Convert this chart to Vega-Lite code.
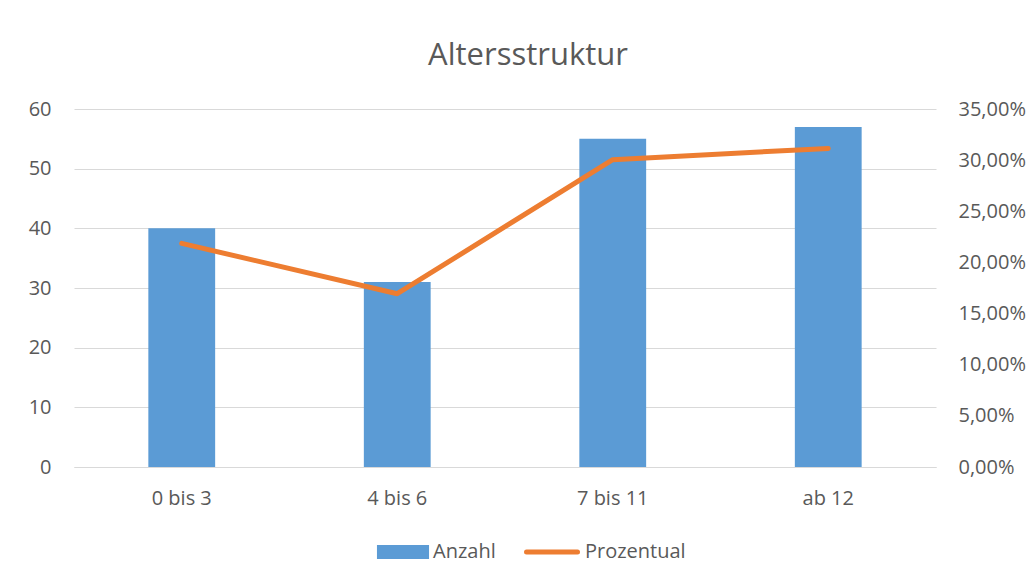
{
  "$schema": "https://vega.github.io/schema/vega-lite/v6.json",
  "width": 862,
  "height": 358,
  "autosize": {"type": "none"},
  "padding": {"left": 74, "top": 109, "right": 98, "bottom": 116},
  "background": "white",
  "config": {
    "locale": {"number": {"decimal": ",", "thousands": ".", "grouping": [3], "currency": ["", " €"]}},
    "font": "Open Sans",
    "view": {"stroke": null},
    "axis": {"labelFont": "Open Sans", "labelFontSize": 20, "labelColor": "#595959", "ticks": false, "title": null},
    "legend": {"labelFont": "Open Sans", "labelFontSize": 20, "labelColor": "#595959", "title": null}
  },
  "title": {"text": "Altersstruktur", "fontSize": 31, "font": "Open Sans", "fontWeight": "normal", "color": "#595959", "anchor": "middle", "frame": "group", "dx": 23, "offset": 27},
  "data": {"values": [
    {"Kategorie": "0 bis 3", "Anzahl": 40, "Prozentual": 0.2186},
    {"Kategorie": "4 bis 6", "Anzahl": 31, "Prozentual": 0.1694},
    {"Kategorie": "7 bis 11", "Anzahl": 55, "Prozentual": 0.3005},
    {"Kategorie": "ab 12", "Anzahl": 57, "Prozentual": 0.3115}
  ]},
  "encoding": {
    "x": {"field": "Kategorie", "type": "nominal", "sort": null,
      "scale": {"paddingInner": 0.69, "paddingOuter": 0.345},
      "axis": {"labelAngle": 0, "labelPadding": 21, "domainColor": "#D9D9D9", "domainWidth": 1, "grid": false}}
  },
  "layer": [
    {
      "mark": {"type": "bar"},
      "encoding": {
        "y": {"field": "Anzahl", "type": "quantitative",
          "scale": {"domain": [0, 60], "nice": false},
          "axis": {"values": [0, 10, 20, 30, 40, 50, 60], "domain": false, "grid": true, "gridColor": "#D9D9D9", "gridWidth": 1, "labelPadding": 23}},
        "fill": {"datum": "Anzahl", "type": "nominal",
          "scale": {"domain": ["Anzahl"], "range": ["#5B9BD5"]},
          "legend": {
            "orient": "none", "legendX": 301, "legendY": 415,
            "labelOffset": 2,
            "symbolType": "M-0.93,-0.25H0.93V0.25H-0.93Z", "symbolSize": 3136, "symbolStrokeWidth": 0,
            "symbolOpacity": 1, "symbolFillColor": "#5B9BD5"
          }}
      }
    },
    {
      "mark": {"type": "line", "strokeWidth": 5, "strokeCap": "round", "strokeJoin": "round"},
      "encoding": {
        "y": {"field": "Prozentual", "type": "quantitative",
          "scale": {"domain": [0, 0.35], "nice": false},
          "axis": {"orient": "right", "format": ".2%", "values": [0, 0.05, 0.1, 0.15, 0.2, 0.25, 0.3, 0.35], "domain": false, "grid": false, "labelPadding": 22}},
        "stroke": {"datum": "Prozentual", "type": "nominal",
          "scale": {"domain": ["Prozentual"], "range": ["#ED7D31"]},
          "legend": {
            "orient": "none", "legendX": 450, "legendY": 415,
            "labelOffset": 5,
            "symbolType": "M-1,0H1", "symbolSize": 2601, "symbolStrokeWidth": 5,
            "symbolOpacity": 1,
            "encode": {"symbols": {"update": {"strokeCap": {"value": "round"}, "fill": {"value": "transparent"}}}}
          }}
      }
    }
  ],
  "resolve": {"scale": {"y": "independent"}}
}
